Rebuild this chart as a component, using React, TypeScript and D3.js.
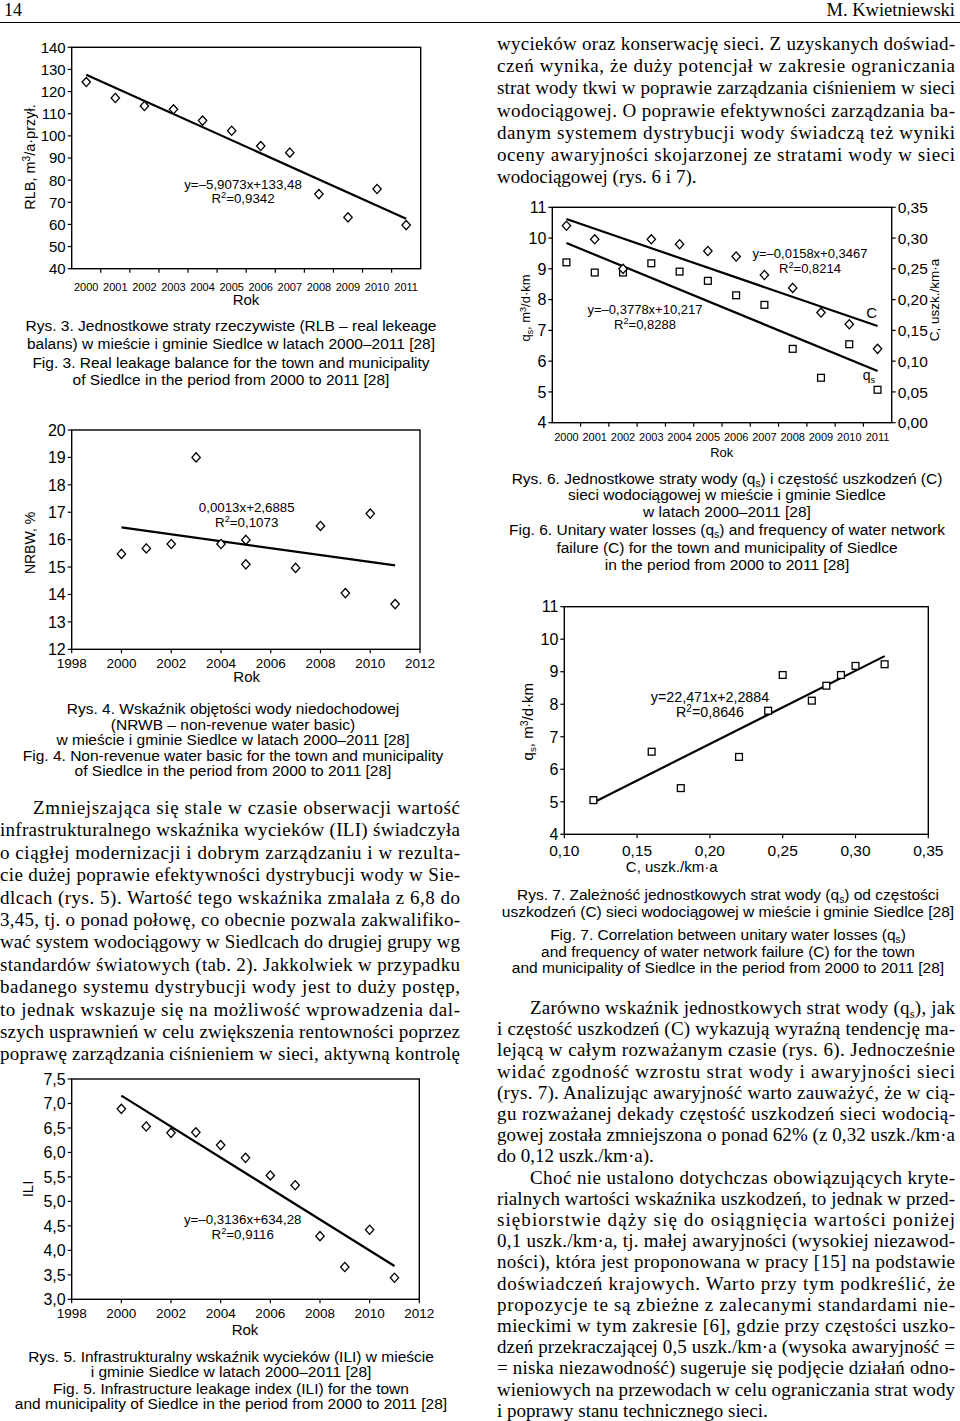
import React from 'react';
import * as d3 from 'd3';

const SANS = '"Liberation Sans", Arial, Helvetica, sans-serif';
const SERIF = '"Liberation Serif", "Times New Roman", serif';

// ---------- DATA ----------
// Rys. 3 – RLB
const years = [2000, 2001, 2002, 2003, 2004, 2005, 2006, 2007, 2008, 2009, 2010, 2011];
const rlbValues = [124.3, 117.1, 113.5, 112.0, 106.9, 102.3, 95.4, 92.4, 73.7, 63.2, 76.0, 59.7];
const rlbTrend = [127.6, 62.6];
const rlbTicks = [40, 50, 60, 70, 80, 90, 100, 110, 120, 130, 140];

// Rys. 4 – NRBW
const nrbwYears = [2000, 2001, 2002, 2003, 2004, 2005, 2005, 2007, 2008, 2009, 2010, 2011];
const nrbwValues = [15.48, 15.68, 15.84, 19.0, 15.84, 15.99, 15.1, 14.97, 16.5, 14.05, 16.95, 13.65];
const nrbwTrend = [16.45, 15.06];
const nrbwTicks = [12, 13, 14, 15, 16, 17, 18, 19, 20];
const yearTicks = [1998, 2000, 2002, 2004, 2006, 2008, 2010, 2012];

// Rys. 5 – ILI
const iliValues = [6.89, 6.53, 6.4, 6.41, 6.15, 5.89, 5.53, 5.33, 4.29, 3.66, 4.42, 3.44];
const iliTrend = [7.16, 3.68];
const iliTicks = [3.0, 3.5, 4.0, 4.5, 5.0, 5.5, 6.0, 6.5, 7.0, 7.5];

// Rys. 6 – qs and C
const qsValues = [9.21, 8.88, 8.88, 9.18, 8.91, 8.61, 8.14, 7.83, 6.4, 5.46, 6.55, 5.07];
const cValues = [0.32, 0.298, 0.25, 0.298, 0.29, 0.279, 0.27, 0.24, 0.219, 0.179, 0.16, 0.12];
const qsTrend = [9.84, 5.68];
const cTrend = [0.331, 0.157];
const qsTicks = [4, 5, 6, 7, 8, 9, 10, 11];
const cTicks = [0, 0.05, 0.1, 0.15, 0.2, 0.25, 0.3, 0.35];

// Rys. 7 – qs vs C
const c7 = [0.12, 0.16, 0.18, 0.22, 0.24, 0.25, 0.27, 0.28, 0.29, 0.3, 0.32];
const qs7 = [5.05, 6.54, 5.42, 6.38, 7.8, 8.9, 8.11, 8.57, 8.9, 9.18, 9.23];
const trend7C = [0.12, 0.32];
const trend7Q = [4.98, 9.48];
const c7Ticks = [0.1, 0.15, 0.2, 0.25, 0.3, 0.35];

// ---------- TEXT ----------
type Line = { t: string; indent?: boolean; last?: boolean };

const rightTopPara: Line[] = [
  { t: 'wycieków oraz konserwację sieci. Z uzyskanych doświad-' },
  { t: 'czeń wynika, że duży potencjał w zakresie ograniczania' },
  { t: 'strat wody tkwi w poprawie zarządzania ciśnieniem w sieci' },
  { t: 'wodociągowej. O poprawie efektywności zarządzania ba-' },
  { t: 'danym systemem dystrybucji wody świadczą też wyniki' },
  { t: 'oceny awaryjności skojarzonej ze stratami wody w sieci' },
  { t: 'wodociągowej (rys. 6 i 7).', last: true },
];

const leftPara: Line[] = [
  { t: 'Zmniejszająca się stale w czasie obserwacji wartość', indent: true },
  { t: 'infrastrukturalnego wskaźnika wycieków (ILI) świadczyła' },
  { t: 'o ciągłej modernizacji i dobrym zarządzaniu i w rezulta-' },
  { t: 'cie dużej poprawie efektywności dystrybucji wody w Sie-' },
  { t: 'dlcach (rys. 5). Wartość tego wskaźnika zmalała z 6,8 do' },
  { t: '3,45, tj. o ponad połowę, co obecnie pozwala zakwalifiko-' },
  { t: 'wać system wodociągowy w Siedlcach do drugiej grupy wg' },
  { t: 'standardów światowych (tab. 2). Jakkolwiek w przypadku' },
  { t: 'badanego systemu dystrybucji wody jest to duży postęp,' },
  { t: 'to jednak wskazuje się na możliwość wprowadzenia dal-' },
  { t: 'szych usprawnień w celu zwiększenia rentowności poprzez' },
  { t: 'poprawę zarządzania ciśnieniem w sieci, aktywną kontrolę' },
];

const rightBottomPara: Line[] = [
  { t: 'Zarówno wskaźnik jednostkowych strat wody (q_{s}), jak', indent: true },
  { t: 'i częstość uszkodzeń (C) wykazują wyraźną tendencję ma-' },
  { t: 'lejącą w całym rozważanym czasie (rys. 6). Jednocześnie' },
  { t: 'widać zgodność wzrostu strat wody i awaryjności sieci' },
  { t: '(rys. 7). Analizując awaryjność warto zauważyć, że w cią-' },
  { t: 'gu rozważanej dekady częstość uszkodzeń sieci wodocią-' },
  { t: 'gowej została zmniejszona o ponad 62% (z 0,32 uszk./km·a' },
  { t: 'do 0,12 uszk./km·a).', last: true },
  { t: 'Choć nie ustalono dotychczas obowiązujących kryte-', indent: true },
  { t: 'rialnych wartości wskaźnika uszkodzeń, to jednak w przed-' },
  { t: 'siębiorstwie dąży się do osiągnięcia wartości poniżej' },
  { t: '0,1 uszk./km·a, tj. małej awaryjności (wysokiej niezawod-' },
  { t: 'ności), która jest proponowana w pracy [15] na podstawie' },
  { t: 'doświadczeń krajowych. Warto przy tym podkreślić, że' },
  { t: 'propozycje te są zbieżne z zalecanymi standardami nie-' },
  { t: 'mieckimi w tym zakresie [6], gdzie przy częstości uszko-' },
  { t: 'dzeń przekraczającej 0,5 uszk./km·a (wysoka awaryjność =' },
  { t: '= niska niezawodność) sugeruje się podjęcie działań odno-' },
  { t: 'wieniowych na przewodach w celu ograniczania strat wody' },
  { t: 'i poprawy stanu technicznego sieci.', last: true },
];

const cap3 = [
  'Rys. 3. Jednostkowe straty rzeczywiste (RLB – real lekeage',
  'balans) w mieście i gminie Siedlce w latach 2000–2011 [28]',
  'Fig. 3. Real leakage balance for the town and municipality',
  'of Siedlce in the period from 2000 to 2011 [28]',
];
const cap4 = [
  'Rys. 4. Wskaźnik objętości wody niedochodowej',
  '(NRWB – non-revenue water basic)',
  'w mieście i gminie Siedlce w latach 2000–2011 [28]',
  'Fig. 4. Non-revenue water basic for the town and municipality',
  'of Siedlce in the period from 2000 to 2011 [28]',
];
const cap5 = [
  'Rys. 5. Infrastrukturalny wskaźnik wycieków (ILI) w mieście',
  'i gminie Siedlce w latach 2000–2011 [28]',
  'Fig. 5. Infrastructure leakage index (ILI) for the town',
  'and municipality of Siedlce in the period from 2000 to 2011 [28]',
];
const cap6 = [
  'Rys. 6. Jednostkowe straty wody (q_{s}) i częstość uszkodzeń (C)',
  'sieci wodociągowej w mieście i gminie Siedlce',
  'w latach 2000–2011 [28]',
  'Fig. 6. Unitary water losses (q_{s}) and frequency of water network',
  'failure (C) for the town and municipality of Siedlce',
  'in the period from 2000 to 2011 [28]',
];
const cap7 = [
  'Rys. 7. Zależność jednostkowych strat wody (q_{s}) od częstości',
  'uszkodzeń (C) sieci wodociągowej w mieście i gminie Siedlce [28]',
  'Fig. 7. Correlation between unitary water losses (q_{s})',
  'and frequency of water network failure (C) for the town',
  'and municipality of Siedlce in the period from 2000 to 2011 [28]',
];

// ---------- HELPERS ----------
const loc = d3.formatLocale({ decimal: ',', thousands: ' ', grouping: [3], currency: ['', ''] });
const f0 = loc.format('d');
const f1 = loc.format('.1f');
const f2 = loc.format('.2f');

function rich(s: string, fs: number) {
  const parts = s.split(/([_^]\{[^}]*\})/).filter((p) => p !== '');
  let cur = 0;
  return parts.map((p, i) => {
    let target = 0;
    let txt = p;
    let size: number | undefined;
    if (p.startsWith('_{')) {
      target = fs * 0.2;
      txt = p.slice(2, -1);
      size = fs * 0.66;
    } else if (p.startsWith('^{')) {
      target = -fs * 0.34;
      txt = p.slice(2, -1);
      size = fs * 0.7;
    }
    const dy = target - cur;
    cur = target;
    return (
      <tspan key={i} dy={dy} fontSize={size}>
        {txt}
      </tspan>
    );
  });
}

function Diamond({ x, y }: { x: number; y: number }) {
  return (
    <path
      d={`M${x},${y - 4.6}L${x + 4.2},${y}L${x},${y + 4.6}L${x - 4.2},${y}Z`}
      fill="#fff"
      stroke="#000"
      strokeWidth={1.3}
    />
  );
}
function Square({ x, y }: { x: number; y: number }) {
  return <rect x={x - 3.4} y={y - 3.4} width={6.8} height={6.8} fill="#fff" stroke="#000" strokeWidth={1.3} />;
}

type Box = { l: number; t: number; r: number; b: number };

function Frame({ b }: { b: Box }) {
  return <rect x={b.l} y={b.t} width={b.r - b.l} height={b.b - b.t} fill="none" stroke="#000" strokeWidth={1.4} />;
}

function YAxis({
  scale,
  ticks,
  x,
  side,
  fmt,
  fs,
}: {
  scale: d3.ScaleLinear<number, number>;
  ticks: number[];
  x: number;
  side: 'left' | 'right';
  fmt: (n: number) => string;
  fs: number;
}) {
  const dir = side === 'left' ? -1 : 1;
  return (
    <g fontFamily={SANS} fontSize={fs}>
      {ticks.map((t) => (
        <g key={t}>
          <line x1={x} x2={x + dir * 4} y1={scale(t)} y2={scale(t)} stroke="#000" strokeWidth={1.2} />
          <text
            x={x + dir * 6}
            y={scale(t)}
            dy="0.36em"
            textAnchor={side === 'left' ? 'end' : 'start'}
          >
            {fmt(t)}
          </text>
        </g>
      ))}
    </g>
  );
}

function XAxisLinear({
  scale,
  ticks,
  y,
  fmt,
  fs,
  labelY,
}: {
  scale: d3.ScaleLinear<number, number>;
  ticks: number[];
  y: number;
  fmt: (n: number) => string;
  fs: number;
  labelY: number;
}) {
  return (
    <g fontFamily={SANS} fontSize={fs}>
      {ticks.map((t) => (
        <g key={t}>
          <line x1={scale(t)} x2={scale(t)} y1={y} y2={y + 4} stroke="#000" strokeWidth={1.2} />
          <text x={scale(t)} y={labelY} textAnchor="middle">
            {fmt(t)}
          </text>
        </g>
      ))}
    </g>
  );
}

function XAxisBand({
  scale,
  cats,
  y,
  fs,
  labelY,
}: {
  scale: d3.ScaleBand<string>;
  cats: string[];
  y: number;
  fs: number;
  labelY: number;
}) {
  const bw = scale.bandwidth();
  return (
    <g fontFamily={SANS} fontSize={fs}>
      {cats.slice(1).map((c) => (
        <line key={'t' + c} x1={scale(c)!} x2={scale(c)!} y1={y} y2={y + 4} stroke="#000" strokeWidth={1.2} />
      ))}
      {cats.map((c) => (
        <text key={c} x={scale(c)! + bw / 2} y={labelY} textAnchor="middle">
          {c}
        </text>
      ))}
    </g>
  );
}

function RotLabel({ x, y, text, fs }: { x: number; y: number; text: string; fs: number }) {
  return (
    <text
      transform={`translate(${x},${y}) rotate(-90)`}
      textAnchor="middle"
      fontFamily={SANS}
      fontSize={fs}
      dy="0.36em"
    >
      {rich(text, fs)}
    </text>
  );
}

function Eq({ x, y, lines, fs, step = 14.5 }: { x: number; y: number; lines: string[]; fs: number; step?: number }) {
  return (
    <g fontFamily={SANS} fontSize={fs} textAnchor="middle">
      {lines.map((l, i) => (
        <text key={i} x={x} y={y + i * step}>
          {rich(l, fs)}
        </text>
      ))}
    </g>
  );
}

function Caption({ lines, x, ys, fs }: { lines: string[]; x: number; ys: number[]; fs: number }) {
  return (
    <g fontFamily={SANS} fontSize={fs} textAnchor="middle">
      {lines.map((l, i) => (
        <text key={i} x={x} y={ys[i]}>
          {rich(l, fs)}
        </text>
      ))}
    </g>
  );
}

function Paragraph({
  lines,
  x,
  width,
  y0,
  step,
  fs,
  indent,
}: {
  lines: Line[];
  x: number;
  width: number;
  y0: number;
  step: number;
  fs: number;
  indent: number;
}) {
  return (
    <g fontFamily={SERIF} fontSize={fs}>
      {lines.map((ln, i) => {
        const xi = x + (ln.indent ? indent : 0);
        const w = width - (ln.indent ? indent : 0);
        return (
          <text
            key={i}
            x={xi}
            y={y0 + i * step}
            textLength={ln.last ? undefined : w}
            lengthAdjust={ln.last ? undefined : 'spacing'}
          >
            {rich(ln.t, fs)}
          </text>
        );
      })}
    </g>
  );
}

// ---------- CHARTS ----------
function Chart3() {
  const b: Box = { l: 71.7, t: 47.3, r: 420.7, b: 268.7 };
  const cats = years.map(String);
  const x = d3.scaleBand<string>().domain(cats).range([b.l, b.r]);
  const y = d3.scaleLinear().domain([40, 140]).range([b.b, b.t]);
  const bw = x.bandwidth();
  const cx = (i: number) => x(cats[i])! + bw / 2;
  const trend = d3.line<number[]>()([
    [cx(0), y(rlbTrend[0])],
    [cx(cats.length - 1), y(rlbTrend[1])],
  ] as any);
  return (
    <g>
      <Frame b={b} />
      <YAxis scale={y} ticks={rlbTicks} x={b.l} side="left" fmt={f0} fs={15} />
      <XAxisBand scale={x} cats={cats} y={b.b} fs={11} labelY={291} />
      <path d={trend!} stroke="#000" strokeWidth={2.2} fill="none" />
      {rlbValues.map((v, i) => (
        <Diamond key={i} x={cx(i)} y={y(v)} />
      ))}
      <Eq x={243} y={188.5} lines={['y=–5,9073x+133,48', 'R^{2}=0,9342']} fs={13.3} />
      <text x={246} y={304.5} textAnchor="middle" fontFamily={SANS} fontSize={15}>
        Rok
      </text>
      <RotLabel x={35} y={157} text="RLB, m^{3}/a·przył." fs={14.5} />
    </g>
  );
}

function Chart4() {
  const b: Box = { l: 71.7, t: 430, r: 420, b: 649.3 };
  const x = d3.scaleLinear().domain([1998, 2012]).range([b.l, b.r]);
  const y = d3.scaleLinear().domain([12, 20]).range([b.b, b.t]);
  const first = d3.min(nrbwYears)!;
  const last = d3.max(nrbwYears)!;
  const trend = d3.line<number[]>()([
    [x(first), y(nrbwTrend[0])],
    [x(last), y(nrbwTrend[1])],
  ] as any);
  return (
    <g>
      <Frame b={b} />
      <YAxis scale={y} ticks={nrbwTicks} x={b.l} side="left" fmt={f0} fs={16} />
      <XAxisLinear scale={x} ticks={yearTicks} y={b.b} fmt={f0} fs={13.5} labelY={668} />
      <path d={trend!} stroke="#000" strokeWidth={2.2} fill="none" />
      {nrbwValues.map((v, i) => (
        <Diamond key={i} x={x(nrbwYears[i])} y={y(v)} />
      ))}
      <Eq x={246.7} y={512} lines={['0,0013x+2,6885', 'R^{2}=0,1073']} fs={13.3} />
      <text x={246.7} y={682} textAnchor="middle" fontFamily={SANS} fontSize={15}>
        Rok
      </text>
      <RotLabel x={35} y={543} text="NRBW, %" fs={14} />
    </g>
  );
}

function Chart5() {
  const b: Box = { l: 71.7, t: 1079, r: 419.3, b: 1299.3 };
  const x = d3.scaleLinear().domain([1998, 2012]).range([b.l, b.r]);
  const y = d3.scaleLinear().domain([3, 7.5]).range([b.b, b.t]);
  const trend = d3.line<number[]>()([
    [x(years[0]), y(iliTrend[0])],
    [x(years[years.length - 1]), y(iliTrend[1])],
  ] as any);
  return (
    <g>
      <Frame b={b} />
      <YAxis scale={y} ticks={iliTicks} x={b.l} side="left" fmt={f1} fs={16} />
      <XAxisLinear scale={x} ticks={yearTicks} y={b.b} fmt={f0} fs={13.5} labelY={1318} />
      <path d={trend!} stroke="#000" strokeWidth={2.2} fill="none" />
      {iliValues.map((v, i) => (
        <Diamond key={i} x={x(years[i])} y={y(v)} />
      ))}
      <Eq x={242.7} y={1224} lines={['y=–0,3136x+634,28', 'R^{2}=0,9116']} fs={13.3} />
      <text x={245} y={1335} textAnchor="middle" fontFamily={SANS} fontSize={15}>
        Rok
      </text>
      <RotLabel x={33.3} y={1189} text="ILI" fs={15} />
    </g>
  );
}

function Chart6() {
  const b: Box = { l: 552.3, t: 207.3, r: 891.7, b: 422.7 };
  const cats = years.map(String);
  const x = d3.scaleBand<string>().domain(cats).range([b.l, b.r]);
  const yL = d3.scaleLinear().domain([4, 11]).range([b.b, b.t]);
  const yR = d3.scaleLinear().domain([0, 0.35]).range([b.b, b.t]);
  const bw = x.bandwidth();
  const cx = (i: number) => x(cats[i])! + bw / 2;
  const n = cats.length - 1;
  const qsLine = d3.line<number[]>()([
    [cx(0), yL(qsTrend[0])],
    [cx(n), yL(qsTrend[1])],
  ] as any);
  const cLine = d3.line<number[]>()([
    [cx(0), yR(cTrend[0])],
    [cx(n), yR(cTrend[1])],
  ] as any);
  return (
    <g>
      <Frame b={b} />
      <YAxis scale={yL} ticks={qsTicks} x={b.l} side="left" fmt={f0} fs={16} />
      <YAxis scale={yR} ticks={cTicks} x={b.r} side="right" fmt={f2} fs={15.5} />
      <XAxisBand scale={x} cats={cats} y={b.b} fs={11} labelY={440.5} />
      <path d={qsLine!} stroke="#000" strokeWidth={2.2} fill="none" />
      <path d={cLine!} stroke="#000" strokeWidth={2.2} fill="none" />
      {qsValues.map((v, i) => (
        <Square key={'q' + i} x={cx(i)} y={yL(v)} />
      ))}
      {cValues.map((v, i) => (
        <Diamond key={'c' + i} x={cx(i)} y={yR(v)} />
      ))}
      <Eq x={810} y={258} lines={['y=–0,0158x+0,3467', 'R^{2}=0,8214']} fs={13} />
      <Eq x={645} y={314} lines={['y=–0,3778x+10,217', 'R^{2}=0,8288']} fs={13} />
      <text x={871.7} y={318} textAnchor="middle" fontFamily={SANS} fontSize={15}>
        C
      </text>
      <text x={869} y={380} textAnchor="middle" fontFamily={SANS} fontSize={14}>
        {rich('q_{s}', 14)}
      </text>
      <text x={721.7} y={456.5} textAnchor="middle" fontFamily={SANS} fontSize={13}>
        Rok
      </text>
      <RotLabel x={530} y={308} text="q_{s}, m^{3}/d·km" fs={13} />
      <RotLabel x={939} y={300} text="C, uszk./km·a" fs={13.5} />
    </g>
  );
}

function Chart7() {
  const b: Box = { l: 564.3, t: 606.7, r: 928.3, b: 834.3 };
  const x = d3.scaleLinear().domain([0.1, 0.35]).range([b.l, b.r]);
  const y = d3.scaleLinear().domain([4, 11]).range([b.b, b.t]);
  const trend = d3.line<number[]>()([
    [x(trend7C[0]), y(trend7Q[0])],
    [x(trend7C[1]), y(trend7Q[1])],
  ] as any);
  return (
    <g>
      <Frame b={b} />
      <YAxis scale={y} ticks={qsTicks} x={b.l} side="left" fmt={f0} fs={16} />
      <XAxisLinear scale={x} ticks={c7Ticks} y={b.b} fmt={f2} fs={15.5} labelY={855.5} />
      <path d={trend!} stroke="#000" strokeWidth={2.2} fill="none" />
      {qs7.map((v, i) => (
        <Square key={i} x={x(c7[i])} y={y(v)} />
      ))}
      <Eq x={710} y={702} lines={['y=22,471x+2,2884', 'R^{2}=0,8646']} fs={14.3} step={15} />
      <text x={671.7} y={872} textAnchor="middle" fontFamily={SANS} fontSize={15}>
        C, uszk./km·a
      </text>
      <RotLabel x={533.3} y={721.7} text="q_{s}, m^{3}/d·km" fs={15} />
    </g>
  );
}

export default function App() {
  return (
    <div style={{ position: 'absolute', left: 0, top: 0, width: 960, height: 1421, background: '#fff' }}>
      <svg width={960} height={1421} viewBox="0 0 960 1421" style={{ display: 'block' }}>
        <rect width={960} height={1421} fill="#fff" />
        {/* header */}
        <text x={4} y={16} fontFamily={SERIF} fontSize={18}>
          14
        </text>
        <text x={955} y={16} fontFamily={SERIF} fontSize={18.5} textAnchor="end">
          M. Kwietniewski
        </text>
        <line x1={0} x2={960} y1={22.5} y2={22.5} stroke="#000" strokeWidth={1} />

        <Chart3 />
        <Caption lines={cap3} x={231} ys={[331, 348.5, 368, 385]} fs={15.5} />

        <Chart4 />
        <Caption lines={cap4} x={233} ys={[713.5, 729.5, 745.3, 761, 776.3]} fs={15.5} />

        <Paragraph lines={leftPara} x={0} width={460} y0={814} step={22.4} fs={19} indent={33} />

        <Chart5 />
        <Caption lines={cap5} x={231} ys={[1362, 1377, 1393.6, 1408.6]} fs={15.5} />

        <Paragraph lines={rightTopPara} x={497} width={458} y0={50} step={22.2} fs={19} indent={33} />

        <Chart6 />
        <Caption lines={cap6} x={727} ys={[483.6, 500.3, 517, 535.3, 552.6, 569.6]} fs={15.5} />

        <Chart7 />
        <Caption lines={cap7} x={728} ys={[899.5, 916.5, 940.3, 957, 973]} fs={15.5} />

        <Paragraph lines={rightBottomPara} x={497} width={458} y0={1014} step={21.2} fs={19} indent={33} />
      </svg>
    </div>
  );
}
